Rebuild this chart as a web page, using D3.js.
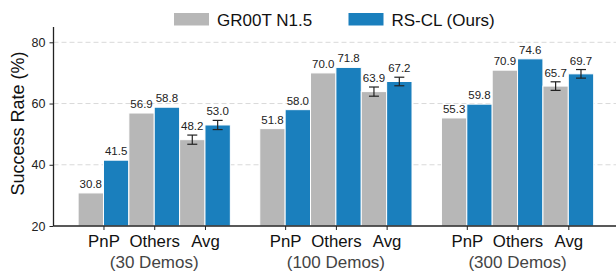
<!DOCTYPE html>
<html>
<head>
<meta charset="utf-8">
<script src="https://cdn.jsdelivr.net/npm/d3@7"></script>
<style>
  body { margin: 0; background: #fff; }
  svg { font-family: "Liberation Sans", Arial, sans-serif; }
</style>
</head>
<body>
<svg width="616" height="272"></svg>
<script>
// data
var groups = ["(30 Demos)", "(100 Demos)", "(300 Demos)"];
var categories = ["PnP", "Others", "Avg"];
var seriesNames = ["GR00T N1.5", "RS-CL (Ours)"];
var groot = [[30.8, 56.9, 48.2], [51.8, 70.0, 63.9], [55.3, 70.9, 65.7]];
var rscl = [[41.5, 58.8, 53.0], [58.0, 71.8, 67.2], [59.8, 74.6, 69.7]];
// error bars only on Avg
var grootErr = [1.5, 1.5, 1.4];
var rsclErr = [1.5, 1.4, 1.4];
var yTicks = [20, 40, 60, 80];

var colors = ["#b7b7b7", "#1a7fbd"];

var svg = d3.select("svg"),
    width = +svg.attr("width"),
    height = +svg.attr("height");

var margin = {left: 53.5, right: 0, top: 27, bottom: 46};
var groupGap = 3.58;

// x in category units: group g, category c -> g*groupGap + c
var x = d3.scaleLinear()
    .domain([-0.985, 10.1])
    .range([margin.left, width - margin.right]);

var y = d3.scaleLinear()
    .domain([20, 85])
    .range([height - margin.bottom, margin.top]);

var barW = 0.5;

// grid
svg.append("g")
    .selectAll("line")
    .data(yTicks.filter(function (d) { return d > 20; }))
    .enter().append("line")
    .attr("x1", x.range()[0])
    .attr("x2", x.range()[1])
    .attr("y1", function (d) { return y(d); })
    .attr("y2", function (d) { return y(d); })
    .attr("stroke", "#d9d9d9")
    .attr("stroke-width", 1)
    .attr("stroke-dasharray", "5,3");

// build flat bar list
var bars = [];
groups.forEach(function (g, gi) {
    categories.forEach(function (c, ci) {
        var pos = gi * groupGap + ci;
        bars.push({s: 0, pos: pos - barW, v: groot[gi][ci], err: c == "Avg" ? grootErr[gi] : 0});
        bars.push({s: 1, pos: pos, v: rscl[gi][ci], err: c == "Avg" ? rsclErr[gi] : 0});
    });
});

svg.append("g")
    .selectAll("rect")
    .data(bars)
    .enter().append("rect")
    .attr("x", function (d) { return x(d.pos); })
    .attr("width", function (d) { return x(d.pos + barW) - x(d.pos); })
    .attr("y", function (d) { return y(d.v); })
    .attr("height", function (d) { return y(20) - y(d.v); })
    .attr("fill", function (d) { return colors[d.s]; })
    .attr("stroke", "#fff")
    .attr("stroke-width", 1);

// error bars
var errs = svg.append("g")
    .selectAll("g")
    .data(bars.filter(function (d) { return d.err > 0; }))
    .enter().append("g")
    .attr("stroke", "#222")
    .attr("stroke-width", 1.2);

errs.append("line")
    .attr("x1", function (d) { return x(d.pos + barW / 2); })
    .attr("x2", function (d) { return x(d.pos + barW / 2); })
    .attr("y1", function (d) { return y(d.v - d.err); })
    .attr("y2", function (d) { return y(d.v + d.err); });

[-1, 1].forEach(function (k) {
    errs.append("line")
        .attr("x1", function (d) { return x(d.pos + barW / 2) - 5; })
        .attr("x2", function (d) { return x(d.pos + barW / 2) + 5; })
        .attr("y1", function (d) { return y(d.v + k * d.err); })
        .attr("y2", function (d) { return y(d.v + k * d.err); });
});

// value labels
svg.append("g")
    .selectAll("text")
    .data(bars)
    .enter().append("text")
    .attr("x", function (d) { return x(d.pos + barW / 2); })
    .attr("y", function (d) { return y(d.v + d.err) - 5; })
    .attr("text-anchor", "middle")
    .attr("font-size", 11.5)
    .attr("fill", "#222")
    .text(function (d) { return d.v.toFixed(1); });

// y axis
var yAxis = svg.append("g")
    .attr("transform", "translate(" + margin.left + ",0)")
    .call(d3.axisLeft(y).tickValues(yTicks).tickSize(4).tickPadding(4));
yAxis.select(".domain").attr("stroke", "#222").attr("stroke-width", 1.3)
    .attr("d", "M0," + y.range()[1] + "V" + y.range()[0]);
yAxis.selectAll(".tick line").attr("stroke", "#222");
yAxis.selectAll(".tick text")
    .attr("font-size", 12.5)
    .attr("fill", "#222")
    .attr("font-family", "Liberation Sans, Arial, sans-serif");

// x axis
var tickPos = [], tickLab = [];
groups.forEach(function (g, gi) {
    categories.forEach(function (c, ci) {
        tickPos.push(gi * groupGap + ci);
        tickLab.push(c);
    });
});
var xAxis = svg.append("g")
    .attr("transform", "translate(0," + y(20) + ")")
    .call(d3.axisBottom(x).tickValues(tickPos).tickSize(4).tickFormat(function (d, i) { return tickLab[i]; }));
xAxis.select(".domain").attr("stroke", "#222").attr("stroke-width", 1.3)
    .attr("d", "M" + x.range()[0] + ",0H" + x.range()[1]);
xAxis.selectAll(".tick line").attr("stroke", "#222");
xAxis.selectAll(".tick text")
    .attr("font-size", 16.8)
    .attr("fill", "#111")
    .attr("font-family", "Liberation Sans, Arial, sans-serif")
    .attr("dy", null)
    .attr("y", 21);

// group labels
svg.append("g")
    .selectAll("text")
    .data(groups)
    .enter().append("text")
    .attr("x", function (d, i) { return x(i * groupGap + 1); })
    .attr("y", y(20) + 42)
    .attr("text-anchor", "middle")
    .attr("font-size", 17)
    .attr("fill", "#444")
    .text(function (d) { return d; });

// y label
svg.append("text")
    .attr("transform", "translate(24," + ((y.range()[0] + y.range()[1]) / 2 - 3) + ") rotate(-90)")
    .attr("text-anchor", "middle")
    .attr("font-size", 18)
    .attr("fill", "#111")
    .text("Success Rate (%)");

// legend
var legendX = [174, 348.5];
var legend = svg.append("g");
seriesNames.forEach(function (name, i) {
    var row = legend.append("g")
        .attr("transform", "translate(" + legendX[i] + ",13)");
    row.append("rect")
        .attr("width", 35)
        .attr("height", 12.5)
        .attr("fill", colors[i]);
    row.append("text")
        .attr("x", 43)
        .attr("y", 12.5)
        .attr("font-size", 17)
        .attr("fill", "#111")
        .text(name);
});
</script>
</body>
</html>
